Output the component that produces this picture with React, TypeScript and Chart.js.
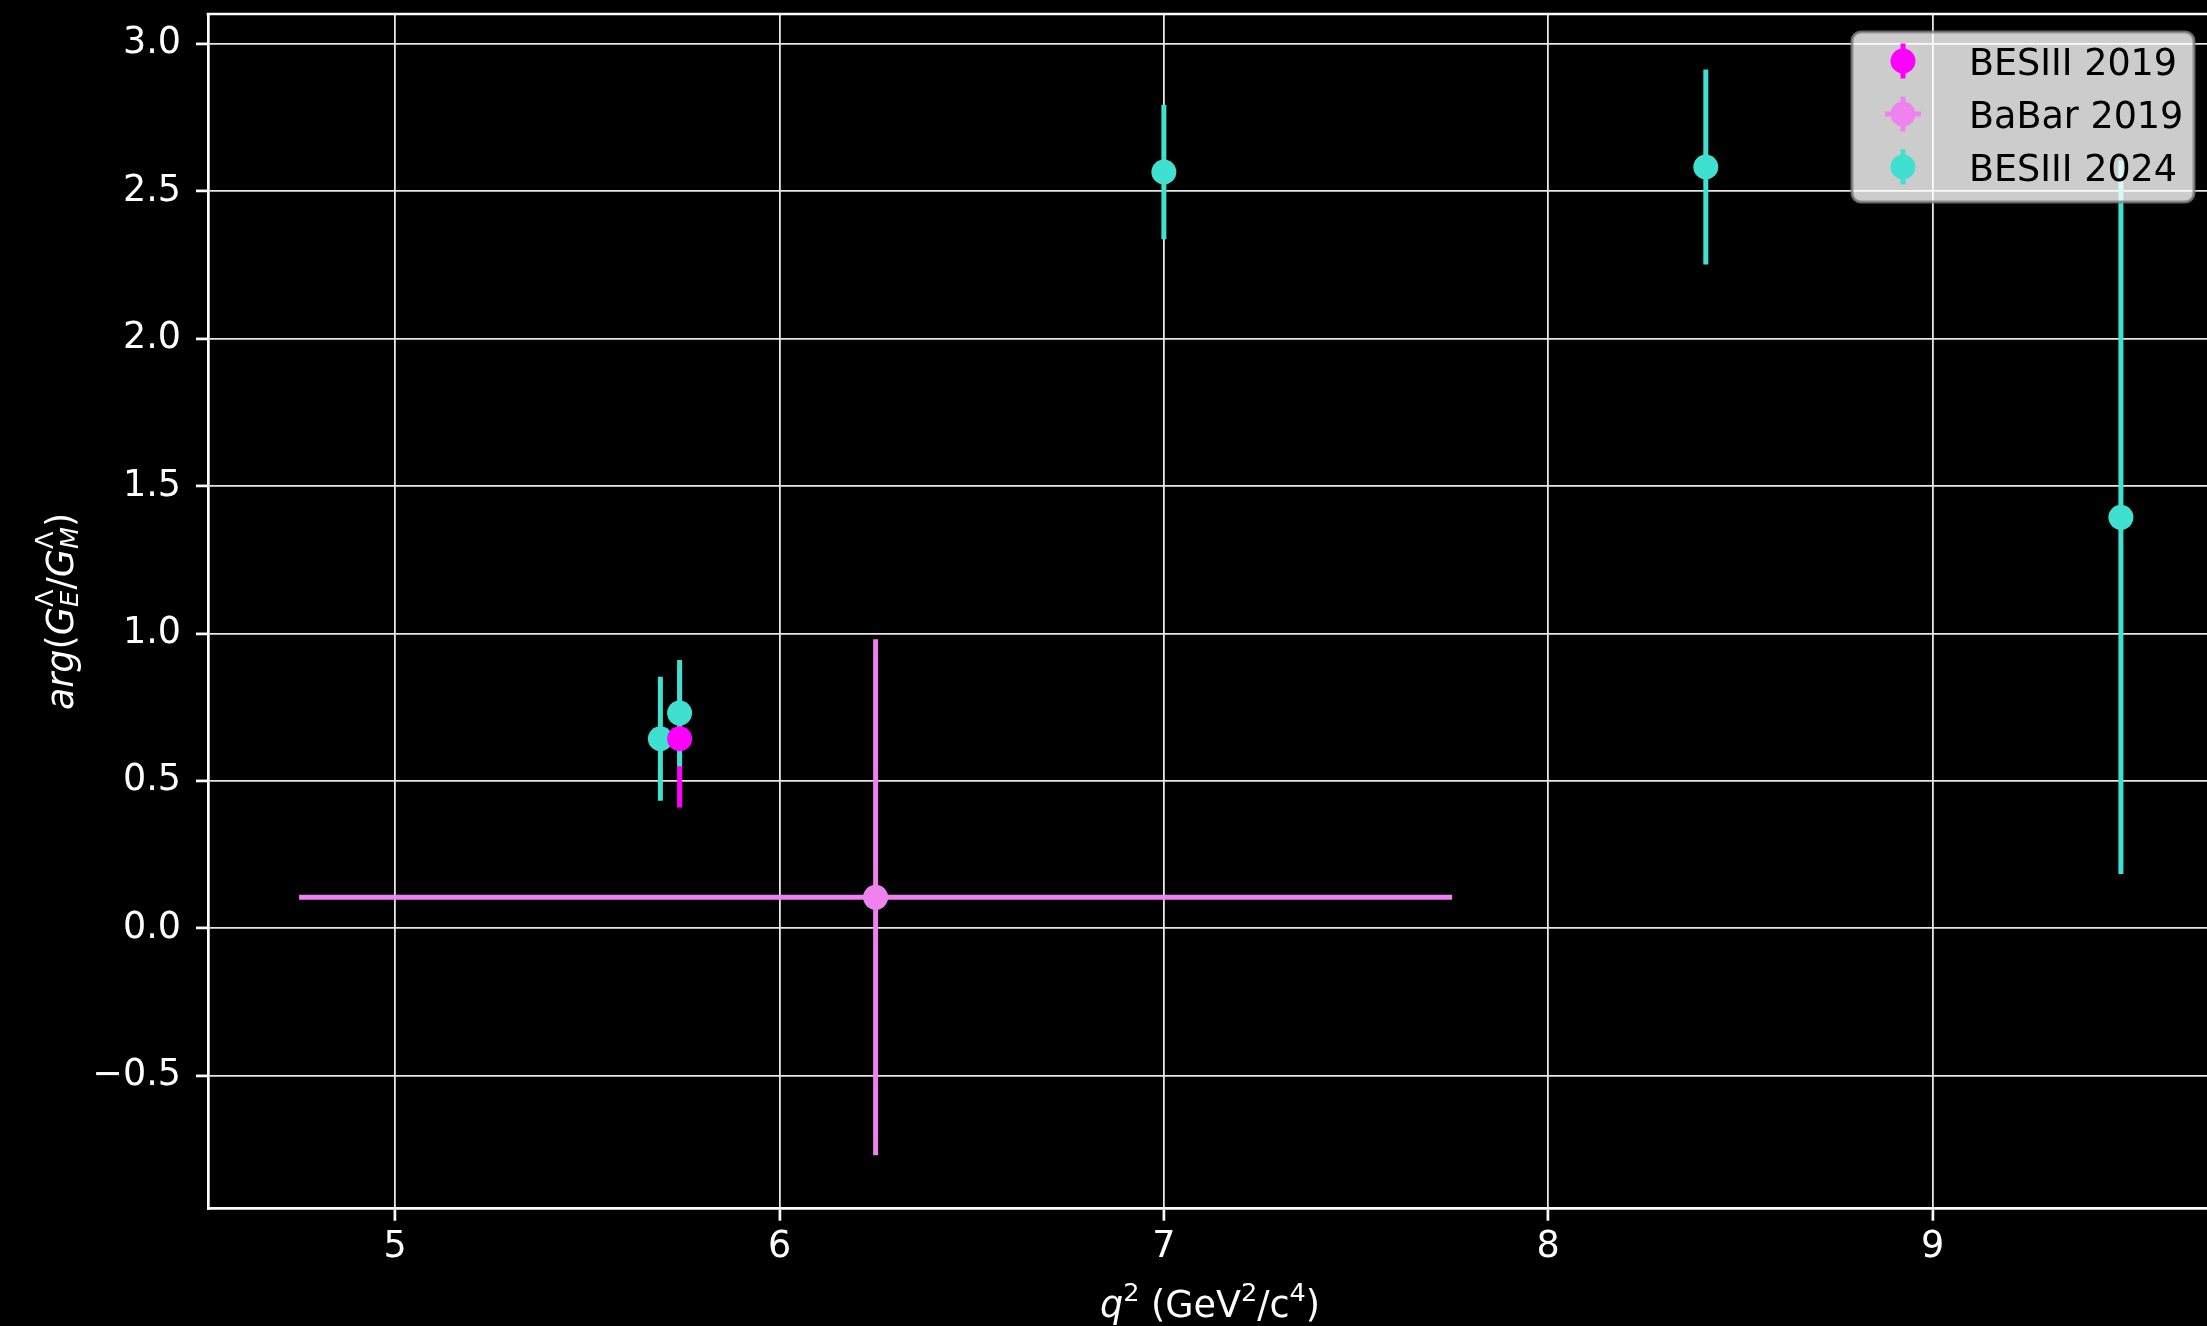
import React, { useEffect, useRef } from 'react';
import { Chart, registerables } from 'chart.js';

Chart.register(...registerables);

// ---------- data ----------
const xTicks = [5, 6, 7, 8, 9];
const yTicks = [-0.5, 0, 0.5, 1, 1.5, 2, 2.5, 3];

const seriesNames = ['BESIII 2019', 'BaBar 2019', 'BESIII 2024'];
const seriesColors = ['#ff00ff', '#ee82ee', '#40e0d0'];

const besiii2019X = [5.74];
const besiii2019Y = [0.643];
const besiii2019YErr = [0.233];
const besiii2019XErr = [0];

const babar2019X = [6.25];
const babar2019Y = [0.105];
const babar2019YErr = [0.875];
const babar2019XErr = [1.5];

const besiii2024X = [5.69, 5.74, 7.0, 8.41, 9.49];
const besiii2024Y = [0.643, 0.73, 2.565, 2.582, 1.394];
const besiii2024YErr = [0.21, 0.18, 0.228, 0.331, 1.21];
const besiii2024XErr = [0, 0, 0, 0, 0];

const xRange = [4.513, 9.727];
const yRange = [-0.951, 3.101];

const FONT = '"DejaVu Sans"';
const FS = 36.5;

type Seg = { t: string; it?: boolean; pos?: 'base' | 'sup' | 'sub'; stack?: boolean };

const xTitleSegs: Seg[] = [
  { t: 'q', it: true },
  { t: '2', pos: 'sup' },
  { t: ' (GeV' },
  { t: '2', pos: 'sup' },
  { t: '/c' },
  { t: '4', pos: 'sup' },
  { t: ')' },
];

const yTitleSegs: Seg[] = [
  { t: 'arg', it: true },
  { t: '(' },
  { t: 'G', it: true },
  { t: 'Λ', pos: 'sup' },
  { t: 'E', it: true, pos: 'sub', stack: true },
  { t: '/' },
  { t: 'G', it: true },
  { t: 'Λ', pos: 'sup' },
  { t: 'M', it: true, pos: 'sub', stack: true },
  { t: ')' },
];

function fmtTick(v: number): string {
  return v.toFixed(1).replace('-', '\u2212');
}

function layoutSegs(ctx: CanvasRenderingContext2D, segs: Seg[], size: number) {
  let x = 0;
  let lastStart = 0;
  let lastW = 0;
  const items: { s: Seg; x: number; fs: number }[] = [];
  for (const s of segs) {
    const fs = !s.pos || s.pos === 'base' ? size : size * 0.7;
    ctx.font = `${s.it ? 'italic ' : ''}${fs}px ${FONT}`;
    const w = ctx.measureText(s.t).width;
    if (s.stack) {
      items.push({ s, x: lastStart, fs });
      const m = Math.max(lastW, w);
      x = lastStart + m;
      lastW = m;
    } else {
      items.push({ s, x, fs });
      lastStart = x;
      lastW = w;
      x += w;
    }
  }
  return { items, width: x };
}

function drawSegs(
  ctx: CanvasRenderingContext2D,
  segs: Seg[],
  size: number,
  supRaise: number,
  subDrop: number
) {
  const { items, width } = layoutSegs(ctx, segs, size);
  ctx.textBaseline = 'alphabetic';
  ctx.textAlign = 'left';
  for (const it of items) {
    ctx.font = `${it.s.it ? 'italic ' : ''}${it.fs}px ${FONT}`;
    let dy = 0;
    if (it.s.pos === 'sup') dy = -supRaise;
    if (it.s.pos === 'sub') dy = subDrop;
    ctx.fillText(it.s.t, it.x - width / 2, dy);
  }
}

const bgPlugin = {
  id: 'bg',
  beforeDraw(chart: any) {
    const { ctx, width, height } = chart;
    ctx.save();
    ctx.fillStyle = '#000';
    ctx.fillRect(0, 0, width, height);
    ctx.restore();
  },
};

const errorPlugin = {
  id: 'errbars',
  beforeDatasetsDraw(chart: any) {
    const { ctx, chartArea } = chart;
    const xs = chart.scales.x;
    const ys = chart.scales.y;
    ctx.save();
    ctx.beginPath();
    ctx.rect(chartArea.left, chartArea.top, chartArea.right - chartArea.left, chartArea.bottom - chartArea.top);
    ctx.clip();
    ctx.lineCap = 'butt';
    chart.data.datasets.forEach((ds: any) => {
      ctx.strokeStyle = ds.backgroundColor;
      ctx.lineWidth = 5;
      ds.data.forEach((p: any, i: number) => {
        const ye = ds.yErr[i];
        const xe = ds.xErr[i];
        const px = xs.getPixelForValue(p.x);
        const py = ys.getPixelForValue(p.y);
        if (ye > 0) {
          ctx.beginPath();
          ctx.moveTo(px, ys.getPixelForValue(p.y - ye));
          ctx.lineTo(px, ys.getPixelForValue(p.y + ye));
          ctx.stroke();
        }
        if (xe > 0) {
          ctx.beginPath();
          ctx.moveTo(xs.getPixelForValue(p.x - xe), py);
          ctx.lineTo(xs.getPixelForValue(p.x + xe), py);
          ctx.stroke();
        }
      });
    });
    ctx.restore();
  },
};

const framePlugin = {
  id: 'frame',
  afterDatasetsDraw(chart: any) {
    const { ctx, chartArea } = chart;
    ctx.save();
    ctx.strokeStyle = '#ffffff';
    ctx.lineWidth = 2.7;
    ctx.beginPath();
    ctx.moveTo(chartArea.left - 1.35, chartArea.top);
    ctx.lineTo(chartArea.right + 2, chartArea.top);
    ctx.stroke();
    ctx.restore();
  },
};

const titlesPlugin = {
  id: 'titles',
  afterDraw(chart: any) {
    const { ctx, chartArea } = chart;
    ctx.save();
    ctx.fillStyle = '#ffffff';
    // x title
    ctx.save();
    ctx.translate((chartArea.left + chartArea.right) / 2, chartArea.bottom + 108.5);
    drawSegs(ctx, xTitleSegs, FS, 16, 0);
    ctx.restore();
    // y title
    ctx.save();
    ctx.translate(chartArea.left - 135, (chartArea.top + chartArea.bottom) / 2);
    ctx.rotate(-Math.PI / 2);
    drawSegs(ctx, yTitleSegs, FS, 20, 5);
    ctx.restore();
    ctx.restore();
  },
};

function roundRect(ctx: CanvasRenderingContext2D, x: number, y: number, w: number, h: number, r: number) {
  ctx.beginPath();
  ctx.moveTo(x + r, y);
  ctx.lineTo(x + w - r, y);
  ctx.arcTo(x + w, y, x + w, y + r, r);
  ctx.lineTo(x + w, y + h - r);
  ctx.arcTo(x + w, y + h, x + w - r, y + h, r);
  ctx.lineTo(x + r, y + h);
  ctx.arcTo(x, y + h, x, y + h - r, r);
  ctx.lineTo(x, y + r);
  ctx.arcTo(x, y, x + r, y, r);
  ctx.closePath();
}

const legendPlugin = {
  id: 'customLegend',
  afterDraw(chart: any) {
    const { ctx, chartArea } = chart;
    const bx = chartArea.right - 360;
    const by = chartArea.top + 18;
    const bw = 342;
    const bh = 170;
    ctx.save();
    roundRect(ctx, bx, by, bw, bh, 9);
    ctx.fillStyle = 'rgba(255,255,255,0.8)';
    ctx.fill();
    ctx.strokeStyle = 'rgba(128,128,128,0.8)';
    ctx.lineWidth = 3;
    ctx.stroke();
    chart.data.datasets.forEach((ds: any, i: number) => {
      const cy = by + 29 + i * 53;
      const mx = bx + 51;
      ctx.strokeStyle = ds.backgroundColor;
      ctx.fillStyle = ds.backgroundColor;
      ctx.lineWidth = 5;
      ctx.beginPath();
      ctx.moveTo(mx, cy - 17.5);
      ctx.lineTo(mx, cy + 17.5);
      ctx.stroke();
      if (ds.xErr.some((v: number) => v > 0)) {
        ctx.beginPath();
        ctx.moveTo(mx - 18, cy);
        ctx.lineTo(mx + 18, cy);
        ctx.stroke();
      }
      ctx.beginPath();
      ctx.arc(mx, cy, 12.5, 0, Math.PI * 2);
      ctx.fill();
      ctx.fillStyle = '#000000';
      ctx.font = `${FS}px ${FONT}`;
      ctx.textAlign = 'left';
      ctx.textBaseline = 'alphabetic';
      ctx.fillText(ds.label, bx + 117, cy + 13.5);
    });
    ctx.restore();
  },
};

function makeDataset(label: string, color: string, xs: number[], ys: number[], yErr: number[], xErr: number[]) {
  return {
    label,
    data: xs.map((x, i) => ({ x, y: ys[i] })),
    yErr,
    xErr,
    backgroundColor: color,
    borderColor: color,
    borderWidth: 0,
    pointRadius: 12.5,
    pointHoverRadius: 12.5,
    showLine: false,
  };
}

export default function App() {
  const ref = useRef<HTMLCanvasElement | null>(null);

  useEffect(() => {
    if (!ref.current) return;
    const chart = new Chart(ref.current, {
      type: 'scatter',
      data: {
        datasets: [
          makeDataset(seriesNames[0], seriesColors[0], besiii2019X, besiii2019Y, besiii2019YErr, besiii2019XErr),
          makeDataset(seriesNames[1], seriesColors[1], babar2019X, babar2019Y, babar2019YErr, babar2019XErr),
          makeDataset(seriesNames[2], seriesColors[2], besiii2024X, besiii2024Y, besiii2024YErr, besiii2024XErr),
        ] as any,
      },
      options: {
        animation: false,
        responsive: false,
        devicePixelRatio: 1,
        layout: { autoPadding: false, padding: { top: 14, left: 0, right: 0, bottom: 0 } },
        plugins: {
          legend: { display: false },
          tooltip: { enabled: false },
          title: { display: false },
        },
        scales: {
          x: {
            type: 'linear',
            position: 'bottom',
            min: xRange[0],
            max: xRange[1],
            afterFit: (s: any) => {
              s.height = 117.3;
              s.paddingLeft = 0;
              s.paddingRight = 0;
            },
            afterBuildTicks: (s: any) => {
              s.ticks = xTicks.map((v) => ({ value: v }));
            },
            grid: {
              color: '#e6e6e6',
              lineWidth: 1.8,
              tickLength: 12,
              tickColor: '#ffffff',
              tickWidth: 2.7,
            },
            border: { color: '#ffffff', width: 2.7 },
            ticks: {
              color: '#ffffff',
              font: { family: 'DejaVu Sans', size: FS },
              padding: 5,
              maxRotation: 0,
              autoSkip: false,
              callback: (v: any) => String(v),
            },
          },
          y: {
            type: 'linear',
            position: 'left',
            min: yRange[0],
            max: yRange[1],
            afterFit: (s: any) => {
              s.width = 208;
              s.paddingTop = 0;
              s.paddingBottom = 0;
            },
            afterBuildTicks: (s: any) => {
              s.ticks = yTicks.map((v) => ({ value: v }));
            },
            grid: {
              color: '#e6e6e6',
              lineWidth: 1.8,
              tickLength: 12,
              tickColor: '#ffffff',
              tickWidth: 2.7,
            },
            border: { color: '#ffffff', width: 2.7 },
            ticks: {
              color: '#ffffff',
              font: { family: 'DejaVu Sans', size: FS },
              padding: 15,
              autoSkip: false,
              callback: (v: any) => fmtTick(Number(v)),
            },
          },
        },
      } as any,
      plugins: [bgPlugin, errorPlugin, framePlugin, titlesPlugin, legendPlugin],
    });
    return () => chart.destroy();
  }, []);

  return (
    <div
      style={{
        position: 'fixed',
        left: 0,
        top: 0,
        width: 2207,
        height: 1326,
        overflow: 'hidden',
        background: '#000',
      }}
    >
      <canvas ref={ref} width={2212} height={1326} style={{ width: 2212, height: 1326, display: 'block' }} />
    </div>
  );
}
